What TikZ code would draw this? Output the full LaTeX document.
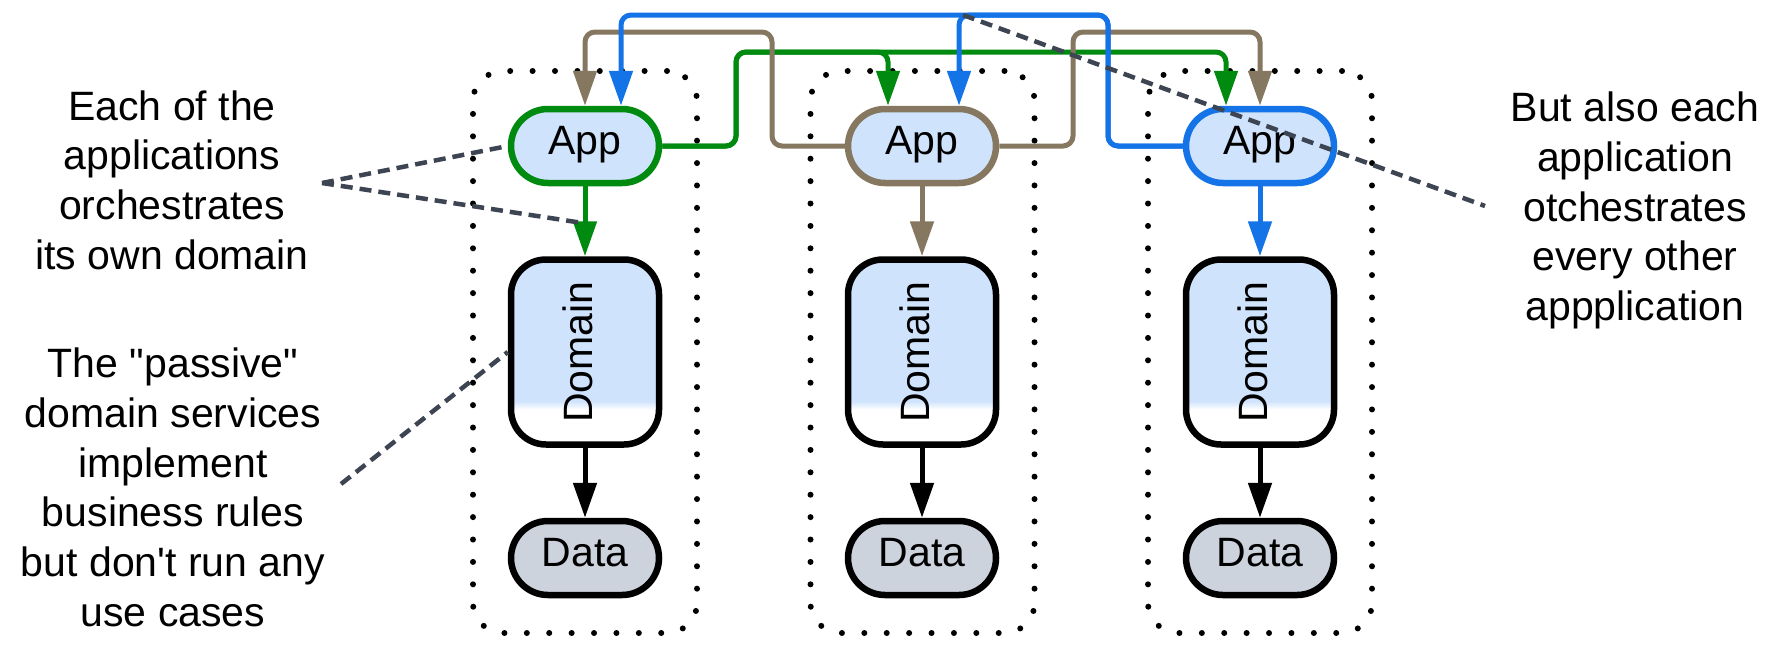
\documentclass[tikz,border=0pt]{standalone}
\usepackage{fontspec}
\newfontfamily\lsans{Liberation Sans}
\usetikzlibrary{arrows.meta,calc}

\definecolor{appgreen}{HTML}{008A10}
\definecolor{appbrown}{HTML}{857760}
\definecolor{appblue}{HTML}{1473E6}
\definecolor{appfill}{HTML}{CFE3FC}
\definecolor{datafill}{HTML}{CDD3DC}
\definecolor{notegray}{HTML}{3E4552}

\tikzset{
  txt/.style={font=\lsans\fontsize{41}{49.8}\selectfont},
  box/.style={txt, draw, line width=6.5pt, minimum width=148pt, inner sep=0pt,
    text height=28pt, text depth=12pt},
  appbox/.style={box, fill=appfill, minimum height=74pt, rounded corners=37pt},
  databox/.style={box, draw=black, fill=datafill, minimum height=74pt, rounded corners=37pt},
  dombox/.style={box, draw=black, fill=white, minimum height=185pt, rounded corners=35pt,
    path picture={
      \fill[appfill, sharp corners] (path picture bounding box.north west)
        rectangle ([yshift=-142pt]path picture bounding box.north east);
      \shade[top color=appfill, bottom color=white, sharp corners]
        ([yshift=-141.5pt]path picture bounding box.north west)
        rectangle ([yshift=-150pt]path picture bounding box.north east);
    }},
  domlabel/.style={txt, rotate=90, inner sep=0pt},
  grp/.style={draw=black, line width=6pt, line cap=round, dash pattern=on 0pt off 22.4pt,
    minimum width=224pt, minimum height=562pt, rounded corners=30pt},
  link/.style={line width=5pt, rounded corners=10pt, -{Triangle[length=35pt,width=23pt]}},
  note/.style={txt, align=center, inner sep=0pt, anchor=north},
  pointer/.style={draw=notegray, line width=4.5pt, dash pattern=on 12pt off 7pt},
}

\begin{document}
\begin{tikzpicture}[x=1pt, y=-1pt]
  \useasboundingbox (0,0) rectangle (1779,656);

  % dotted groups, one per application
  \node[grp] (g1) at (585,352) {};
  \node[grp] (g2) at (922.5,352) {};
  \node[grp] (g3) at (1260,352) {};

  % application layer
  \node[appbox, draw=appgreen] (app1) at (585,146) {App};
  \node[appbox, draw=appbrown] (app2) at (922,146) {App};
  \node[appbox, draw=appblue]  (app3) at (1260,146) {App};

  % domain layer
  \node[dombox] (dom1) at (585,352) {};
  \node[dombox] (dom2) at (922,352) {};
  \node[dombox] (dom3) at (1260,352) {};
  \node[domlabel] (dl1) at ([xshift=-7pt]dom1.center) {Domain};
  \node[domlabel] (dl2) at ([xshift=-7pt]dom2.center) {Domain};
  \node[domlabel] (dl3) at ([xshift=-7pt]dom3.center) {Domain};

  % data layer
  \node[databox] (data1) at (585,558) {Data};
  \node[databox] (data2) at (922,558) {Data};
  \node[databox] (data3) at (1260,558) {Data};

  % entry points on top of each App
  \coordinate (in1b) at (app1.north);
  \coordinate (in1u) at ([xshift=36pt]app1.north);
  \coordinate (in2g) at ([xshift=-34pt]app2.north);
  \coordinate (in2u) at ([xshift=37pt]app2.north);
  \coordinate (in3g) at ([xshift=-34pt]app3.north);
  \coordinate (in3b) at (app3.north);

  % each app drives its own domain, each domain its data
  \draw[link, appgreen] (app1) -- (dom1);
  \draw[link, appbrown] (app2) -- (dom2);
  \draw[link, appblue]  (app3) -- (dom3);
  \draw[link, black] (dom1) -- (data1);
  \draw[link, black] (dom2) -- (data2);
  \draw[link, black] (dom3) -- (data3);

  % every app also drives the other apps
  \draw[link, appgreen] (app1.east) -| (736,52) -| (in2g);
  \draw[link, appgreen] (app1.east) -| (736,52) -| (in3g);
  \draw[link, appbrown] (app2.west) -| (772,32) -| (in1b);
  \draw[link, appbrown] (app2.east) -| (1073,32) -| (in3b);
  \draw[link, appblue]  (app3.west) -| (1108,15) -| (in1u);
  \draw[link, appblue]  (app3.west) -| (1108,15) -| (in2u);

  % annotations
  \node[note] (n1) at (172,90.2) {Each of the\\applications\\orchestrates\\its own domain};
  \node[note] (n2) at (173,347.6) {The "passive"\\domain services\\implement\\business rules\\but don't run any\\use cases};
  \node[note] (n3) at (1635,91.6) {But also each\\application\\otchestrates\\every other\\appplication};

  \coordinate (p1) at (322,183);
  \coordinate (p1b) at ($(app1.south)!0.53!(dom1.north)$);
  \coordinate (p2) at (341,484);
  \coordinate (p3a) at (963,15);
  \coordinate (p3b) at (1485,206);
  \draw[pointer] (p1) -- (app1.west);
  \draw[pointer] (p1) -- (p1b);
  \draw[pointer] (p2) -- (dom1.west);
  \draw[pointer] (p3a) -- (p3b);
\end{tikzpicture}
\end{document}
